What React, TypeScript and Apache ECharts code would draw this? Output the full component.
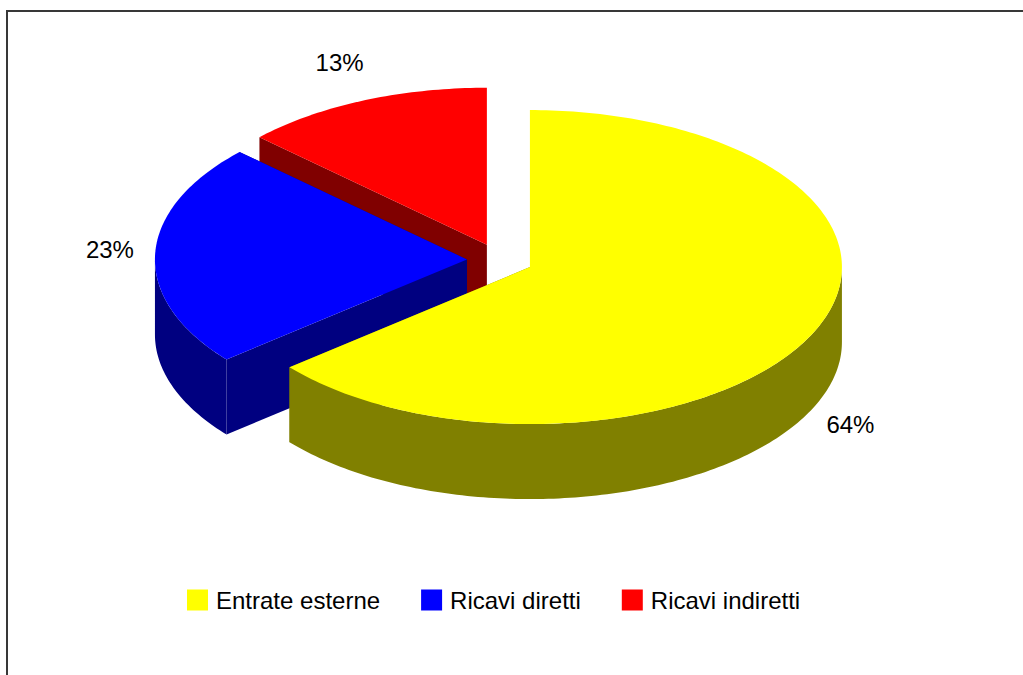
import React, { useEffect, useRef } from "react";
import * as echarts from "echarts";

// ---- data ----
const categories = ["Entrate esterne", "Ricavi diretti", "Ricavi indiretti"];
const values = [64, 23, 13];

// ---- palette ----
const topColors = ["#FFFF00", "#0000FF", "#FF0000"];
const sideColors = ["#808000", "#000080", "#800000"];

// ---- layout ----
const CX = 500;
const CY = 260;
const RX = 312;
const RY = 157;
const DEPTH = 75;
const EXPLODE = 0.106;
const FONT = "'Liberation Sans', Arial, sans-serif";

const total = values.reduce((a, b) => a + b, 0);
const angles: number[][] = (() => {
  let acc = 0;
  return values.map((v) => {
    const a1 = (acc / total) * 360;
    acc += v;
    const a2 = (acc / total) * 360;
    return [a1, a2];
  });
})();
const labels = values.map((v) => `${Math.round((v / total) * 100)}%`);
const midRad = angles.map(([a1, a2]) => (((a1 + a2) / 2) * Math.PI) / 180);
// front-ness: slices lying further to the front are drawn later
const order = midRad
  .map((m, i) => ({ i, k: -Math.cos(m) }))
  .sort((a, b) => a.k - b.k)
  .map((o) => o.i);
const zOf = (i: number) => 2 + order.indexOf(i);

function renderSlice(i: number) {
  return () => {
    const [a1, a2] = angles[i];
    const mid = midRad[i];
    const ecx = CX + EXPLODE * RX * Math.sin(mid);
    const ecy = CY - EXPLODE * RY * Math.cos(mid);
    const pt = (deg: number, dy = 0) => {
      const r = (deg * Math.PI) / 180;
      return [ecx + RX * Math.sin(r), ecy - RY * Math.cos(r) + dy];
    };
    const arc = (s: number, e: number, dy = 0) => {
      const n = Math.max(2, Math.ceil(e - s));
      const pts: number[][] = [];
      for (let k = 0; k <= n; k++) pts.push(pt(s + ((e - s) * k) / n, dy));
      return pts;
    };
    const children: any[] = [];
    for (const a of [a1, a2]) {
      children.push({
        type: "polygon",
        shape: { points: [[ecx, ecy], pt(a), pt(a, DEPTH), [ecx, ecy + DEPTH]] },
        style: { fill: sideColors[i] },
      });
    }
    const vs = Math.max(a1, 90);
    const ve = Math.min(a2, 270);
    if (ve > vs) {
      const top = arc(vs, ve);
      const bot = arc(vs, ve, DEPTH).reverse();
      children.push({
        type: "polygon",
        shape: { points: top.concat(bot) },
        style: { fill: sideColors[i] },
      });
    }
    children.push({
      type: "polygon",
      shape: { points: [[ecx, ecy], ...arc(a1, a2)] },
      style: { fill: topColors[i] },
    });
    const s = Math.sin(mid);
    const c = Math.cos(mid);
    children.push({
      type: "text",
      x: ecx + (RX + 45) * s - 6 * Math.abs(c),
      y: ecy - (RY + 37) * c + (c < 0 ? DEPTH : -4),
      style: {
        text: labels[i],
        fill: "#000",
        fontSize: 24,
        fontFamily: FONT,
        align: "center",
        verticalAlign: "middle",
      },
    });
    return { type: "group", children };
  };
}

export default function App() {
  const ref = useRef<HTMLDivElement>(null);
  useEffect(() => {
    if (!ref.current) return;
    const chart = echarts.init(ref.current, null, { renderer: "svg" });
    chart.setOption({
      animation: false,
      backgroundColor: "#ffffff",
      legend: {
        data: categories,
        left: 187,
        top: 588,
        padding: 0,
        icon: "rect",
        itemWidth: 21,
        itemHeight: 21,
        itemGap: 41,
        selectedMode: false,
        textStyle: { fontSize: 24, fontFamily: FONT, color: "#000", padding: [0, 0, 0, 3] },
      },
      graphic: [
        {
          type: "rect",
          silent: true,
          shape: { x: 7, y: 11, width: 1060, height: 720 },
          style: { fill: "none", stroke: "#383838", lineWidth: 2 },
        },
      ],
      series: categories.map((name, i) => ({
        type: "custom",
        name,
        coordinateSystem: "none",
        data: [values[i]],
        renderItem: renderSlice(i),
        itemStyle: { color: topColors[i] },
        z: zOf(i),
        silent: true,
      })),
    });
    return () => chart.dispose();
  }, []);
  return (
    <div
      ref={ref}
      style={{ position: "fixed", left: 0, top: 0, width: 1023, height: 675 }}
    />
  );
}
